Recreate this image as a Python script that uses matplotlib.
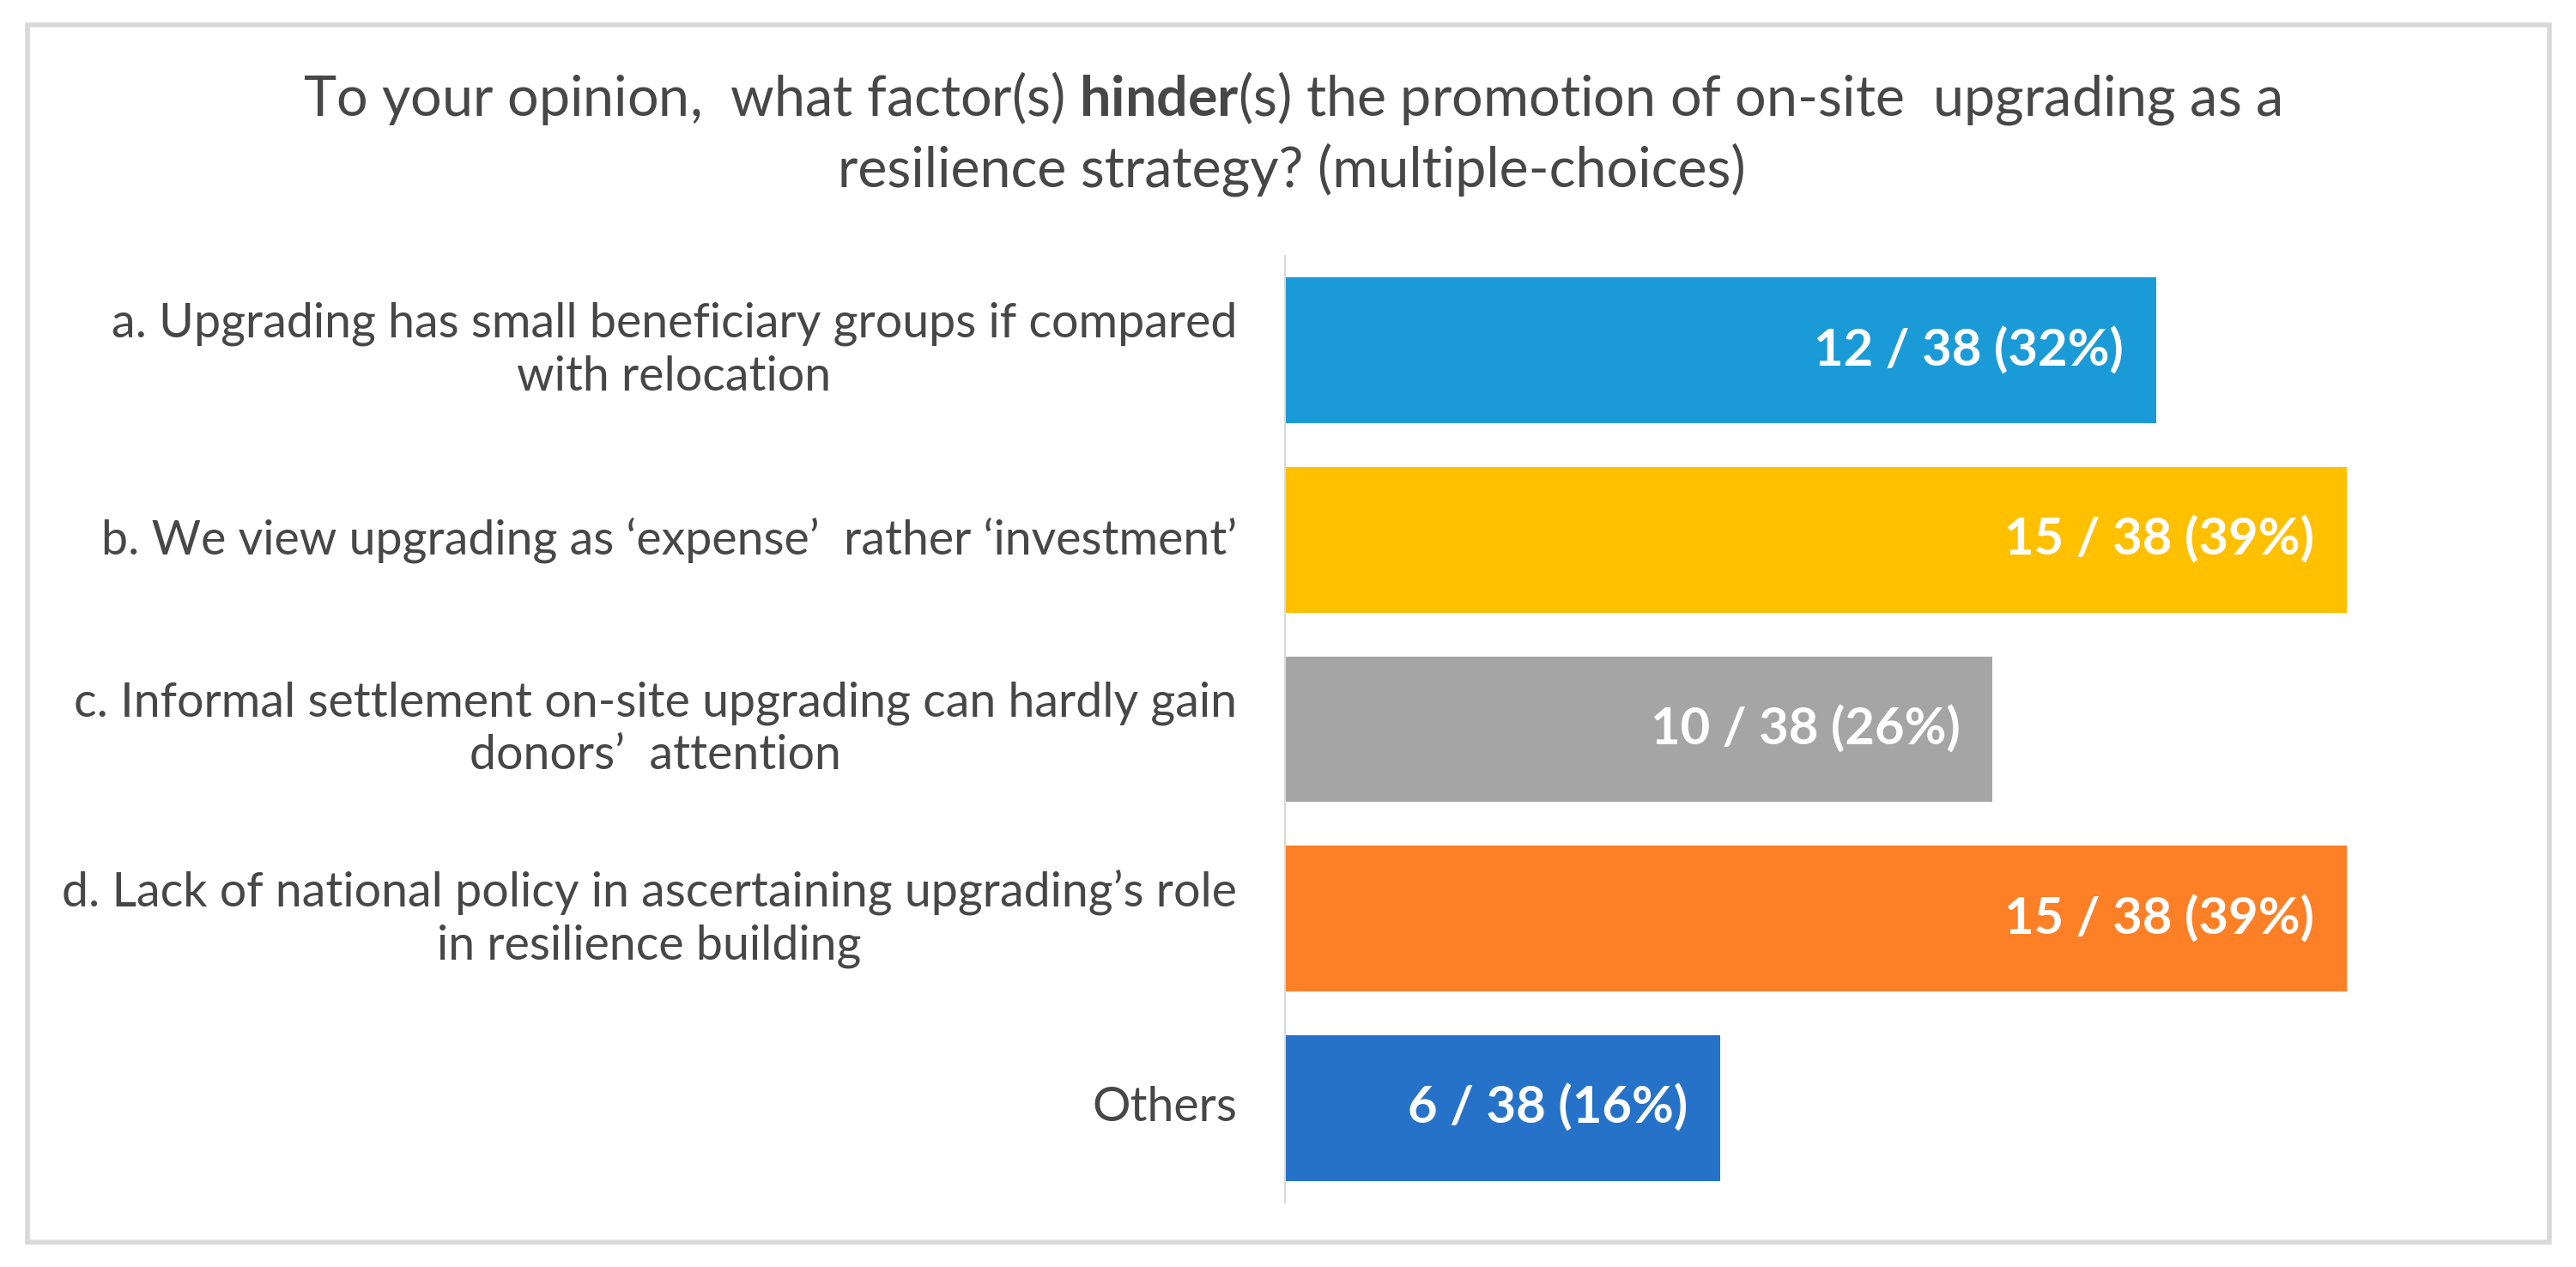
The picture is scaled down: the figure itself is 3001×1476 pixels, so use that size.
import matplotlib.pyplot as plt
from matplotlib.patches import Rectangle

# survey answers (multiple choice, n = 38)
categories = [
    "a. Upgrading has small beneficiary groups if compared\nwith relocation",
    "b. We view upgrading as \u2018expense\u2019  rather \u2018investment\u2019",
    "c. Informal settlement on-site upgrading can hardly gain\ndonors\u2019  attention",
    "d. Lack of national policy in ascertaining upgrading\u2019s role\nin resilience building",
    "Others",
]
counts = [12, 15, 10, 15, 6]
total = 38
percents = [32, 39, 26, 39, 16]
colors = ["#1a9bd7", "#ffc000", "#a5a5a5", "#fd7f26", "#2672c8"]

title = ("To your opinion,  what factor(s) $\\bf{hinder}$(s) the promotion of on-site  upgrading as a\n"
         "resilience strategy? (multiple-choices)")

plt.rcParams['font.family'] = ['Lato', 'DejaVu Sans']
plt.rcParams['mathtext.fontset'] = 'custom'
plt.rcParams['mathtext.rm'] = 'Lato'
plt.rcParams['mathtext.bf'] = 'Lato:bold'
text_col = "#474747"

W, H = 3001, 1476
fig = plt.figure(figsize=(W / 100, H / 100), dpi=100)

# outer frame
fig.patches.append(Rectangle((32 / W, 29 / H), 2938 / W, 1418 / H, transform=fig.transFigure,
                             fill=False, edgecolor="#d9d9d9", linewidth=4.0))

ax = fig.add_axes([1497 / W, 1 - 1401 / H, 1427 / W, 1103 / H])
y = list(range(len(categories)))
ax.barh(y, percents, height=0.77, color=colors, zorder=2)
ax.set_ylim(len(categories) - 0.5, -0.5)
ax.set_xlim(0, 45)

for i, (c, p) in enumerate(zip(counts, percents)):
    ax.annotate(f"{c} / {total} ({p}%)", xy=(p, i), xytext=(-38, 0), textcoords="offset pixels",
                ha="right", va="center", color="white", fontsize=43, fontweight="bold")

ax.set_yticks(y)
ax.set_yticklabels([])
for i, lab in enumerate(categories):
    ax.annotate(lab, xy=(0, i), xytext=(-56, 0), textcoords="offset pixels",
                ha="right", va="center", multialignment="center", color=text_col,
                fontsize=40, linespacing=1.25)

ax.tick_params(left=False, bottom=False, labelbottom=False)
for s in ["top", "right", "bottom"]:
    ax.spines[s].set_visible(False)
ax.spines["left"].set_color("#d9d9d9")
ax.spines["left"].set_linewidth(1.5)

fig.text(1505 / W, 1 - 155 / H, title, ha="center", va="center", multialignment="center",
         color=text_col, fontsize=46.5, linespacing=1.36)

fig.savefig("out.png", dpi=100, facecolor="white")
